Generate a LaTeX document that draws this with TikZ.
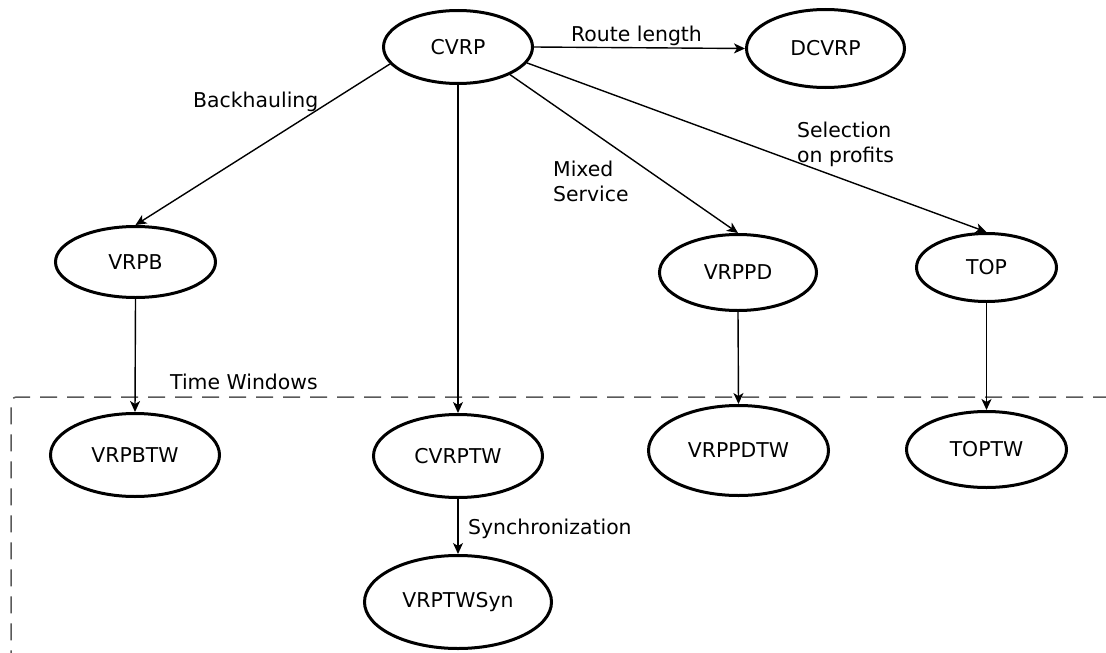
\documentclass[tikz,border=0pt]{standalone}
\usepackage{fontspec}
\setmainfont{DejaVu Sans}
\usetikzlibrary{arrows.meta,shapes.geometric}
\tikzset{
  prob/.style={ellipse, draw=black, line width=3pt, inner sep=0pt,
    font=\fontsize{20.4}{25}\selectfont},
  lbl/.style={inner sep=0pt, font=\fontsize{20.4}{25}\selectfont, align=left},
  conn/.style={line width=1.4pt, -{Stealth[length=11pt,width=10pt,inset=3pt]}},
  twbox/.style={draw=black!65, line width=1.5pt, dash pattern=on 17pt off 10pt, rounded corners=5pt}
}
\begin{document}
\begin{tikzpicture}[x=1pt,y=-1pt]
\useasboundingbox (0,0) rectangle (1106,653);
% time windows box
\coordinate (twTR) at (1110,397);
\coordinate (twBL) at (11,660);
\draw[twbox] (twTR) -- (11,397) -- (twBL);
\node[lbl, anchor=base west] (twl) at (170,389) {Time Windows};

% problem nodes
\node[prob, minimum width=149pt, minimum height=73pt] (cvrp) at (458,47) {CVRP};
\node[prob, minimum width=158pt, minimum height=78pt] (dcvrp) at (825.5,48.5) {DCVRP};
\node[prob, minimum width=160pt, minimum height=71pt] (vrpb) at (135.5,262) {VRPB};
\node[prob, minimum width=157pt, minimum height=76pt] (vrppd) at (738,272.5) {VRPPD};
\node[prob, minimum width=140pt, minimum height=68pt] (top) at (986.5,267.5) {TOP};
\node[prob, minimum width=169pt, minimum height=83pt] (vrpbtw) at (135,455) {VRPBTW};
\node[prob, minimum width=169pt, minimum height=83pt] (cvrptw) at (458,456) {CVRPTW};
\node[prob, minimum width=180pt, minimum height=90pt] (vrppdtw) at (738.5,450.5) {VRPPDTW};
\node[prob, minimum width=160pt, minimum height=76pt] (toptw) at (986.5,449.5) {TOPTW};
\node[prob, minimum width=187pt, minimum height=93pt] (vrptwsyn) at (458,602) {VRPTWSyn};

% connectors
\draw[conn] (cvrp.east) -- (dcvrp.west);
\draw[conn] (cvrp.194) -- (vrpb.north);
\draw[conn] (cvrp.south) -- (cvrptw.north);
\draw[conn] (cvrp.332) -- (vrppd.north);
\draw[conn] (cvrp.347) -- (top.north);
\draw[conn] (vrpb.south) -- (vrpbtw.north);
\draw[conn] (vrppd.south) -- (vrppdtw.north);
\draw[conn] (top.south) -- (toptw.north);
\draw[conn] (cvrptw.south) -- (vrptwsyn.north);

% labels
\node[lbl, anchor=base west] (lroute) at (571,41) {Route length};
\node[lbl, anchor=base west] (lback) at (193,107.7) {Backhauling};
\node[lbl, anchor=west] (lmixed) at (553,181) {Mixed\\Service};
\node[lbl, anchor=west] (lsel) at (797,144) {Selection\\on profits};
\node[lbl, anchor=base west] (lsync) at (468,534) {Synchronization};
\end{tikzpicture}
\end{document}
